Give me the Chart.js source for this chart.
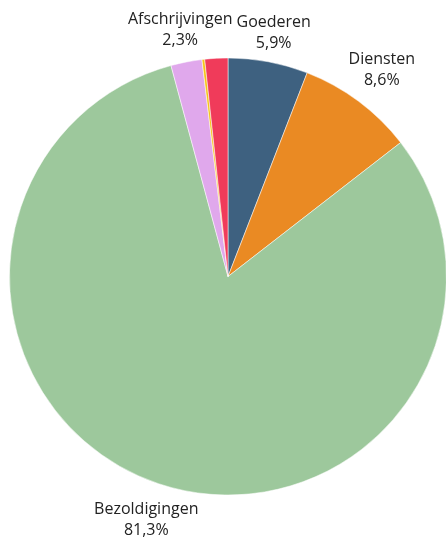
<!DOCTYPE html>
<html><head><meta charset="utf-8">
<script src="https://cdn.jsdelivr.net/npm/chart.js@4/dist/chart.umd.min.js"></script>
<style>html,body{margin:0;padding:0;background:#fff;overflow:hidden;width:446px;height:542px}
#wrap{position:absolute;left:0;top:0;width:464px;height:542px}</style>
</head><body><div id="wrap"><canvas id="c"></canvas></div>
<script>
const categories = ["Goederen", "Diensten", "Bezoldigingen", "Afschrijvingen", "Overige", "Subsidies"];
const values = [5.9, 8.6, 81.3, 2.3, 0.2, 1.7];
const valueLabels = ["5,9%", "8,6%", "81,3%", "2,3%", "", ""];
const colors = ["#3e6180", "#ea8a23", "#9dc89c", "#e0a8ec", "#f5c518", "#f03b5a"];

const FONT = '16px "Open Sans", "Noto Sans", sans-serif';
const labelPlugin = {
  id: 'outLabels',
  afterDatasetsDraw(chart) {
    const ctx = chart.ctx;
    const meta = chart.getDatasetMeta(0);
    ctx.save();
    ctx.font = FONT;
    ctx.fillStyle = '#222';
    ctx.textAlign = 'center';
    ctx.textBaseline = 'middle';
    meta.data.forEach((arc, i) => {
      if (!valueLabels[i]) return;
      const mid = (arc.startAngle + arc.endAngle) / 2;
      const dx = Math.cos(mid), dy = Math.sin(mid);
      const w = Math.max(ctx.measureText(categories[i]).width, ctx.measureText(valueLabels[i]).width);
      const h = 42;
      const extra = Math.abs(dx) * w / 2 + Math.abs(dy) * h / 2;
      const d = arc.outerRadius + 2 + extra;
      const cx = arc.x + dx * d, cy = arc.y + dy * d;
      ctx.fillText(categories[i], cx, cy - 10.5);
      ctx.fillText(valueLabels[i], cx, cy + 10.5);
    });
    ctx.restore();
  }
};

new Chart(document.getElementById('c'), {
  type: 'pie',
  data: { labels: categories, datasets: [{ data: values, backgroundColor: colors, borderColor: 'rgba(255,255,255,0.5)', borderWidth: 1 }] },
  options: {
    responsive: true, maintainAspectRatio: false, animation: false,
    layout: { padding: { left: 9, right: 17, top: 57, bottom: 46 } },
    plugins: { legend: { display: false }, tooltip: { enabled: false } }
  },
  plugins: [labelPlugin]
});
</script></body></html>
